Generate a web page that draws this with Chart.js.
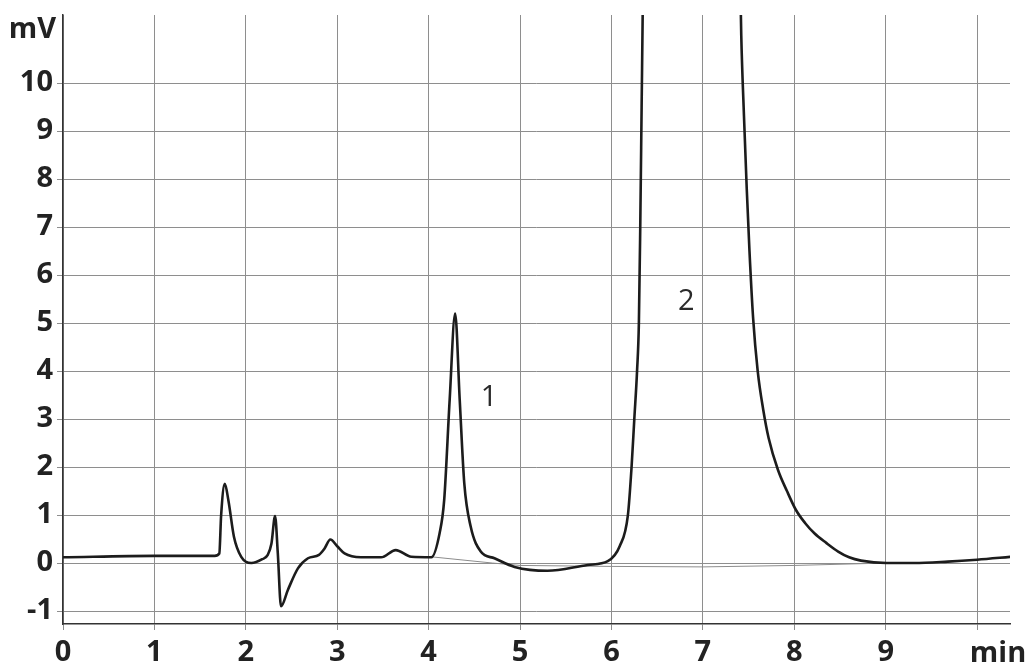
<!DOCTYPE html>
<html>
<head>
<meta charset="utf-8">
<script src="https://cdn.jsdelivr.net/npm/chart.js@4/dist/chart.umd.min.js"></script>
<style>
  html, body { margin: 0; padding: 0; background: #fff; }
  #wrap { width: 1029px; height: 664px; position: relative; }
</style>
</head>
<body>
<div id="wrap"><canvas id="grafico"></canvas></div>
<script>
// chromatogram trace (min, mV)
const timeMin = [0, 1.0, 1.66, 1.71, 1.73, 1.77, 1.81, 1.87, 1.95, 2.06, 2.18, 2.24, 2.28, 2.32, 2.35, 2.385,
  2.46, 2.57, 2.68, 2.80, 2.86, 2.925, 3.0, 3.08, 3.26, 3.48, 3.64, 3.81, 4.03, 4.12, 4.17, 4.23, 4.29,
  4.34, 4.39, 4.46, 4.57, 4.72, 4.94, 5.30, 5.74, 5.96, 6.09, 6.18, 6.22, 6.25, 6.28, 6.30, 6.315, 6.33,
  6.345, 6.36, 6.9, 7.40, 7.42, 7.45, 7.48, 7.51, 7.55, 7.60, 7.66, 7.72, 7.82, 7.92, 8.02, 8.12, 8.22,
  8.35, 8.48, 8.60, 8.73, 9.01, 9.31, 9.68, 10.0, 10.37];
const signalMv = [0.12, 0.15, 0.15, 0.2, 1.0, 1.65, 1.3, 0.55, 0.13, 0.0, 0.08, 0.17, 0.4, 0.98, 0.2, -0.9,
  -0.56, -0.11, 0.1, 0.17, 0.3, 0.49, 0.35, 0.2, 0.12, 0.12, 0.27, 0.13, 0.12, 0.62, 1.31, 3.4, 5.2,
  3.4, 1.66, 0.76, 0.24, 0.1, -0.08, -0.16, -0.04, 0.04, 0.35, 1.0, 2.0, 3.0, 4.0, 5.0, 7.0, 9.5,
  12, 15, 40, 13, 11, 9.3, 7.8, 6.5, 5.1, 4.0, 3.2, 2.6, 1.95, 1.5, 1.1, 0.83, 0.62,
  0.42, 0.24, 0.12, 0.05, 0.0, 0.0, 0.03, 0.07, 0.13];

// thin integration baseline under peaks 1 and 2
const baseTime = [4.03, 4.7, 5.0, 6.0, 7.0, 8.0, 9.0];
const baseMv = [0.13, 0.0, -0.05, -0.07, -0.08, -0.05, 0.0];

// peak numbers
const peakNames = ['1', '2'];
const peakTime = [4.66, 6.82];
const peakMv = [3.44, 5.44];

const xTicks = [0, 1, 2, 3, 4, 5, 6, 7, 8, 9, 10];
const yTicks = [-1, 0, 1, 2, 3, 4, 5, 6, 7, 8, 9, 10];

const tickFont = { family: 'Open Sans', size: 29, weight: 'bold' };

const extraText = {
    id: 'extraText',
    afterDatasetsDraw(chart) {
        const ctx = chart.ctx;
        const xs = chart.scales.x, ys = chart.scales.y;
        ctx.save();
        ctx.fillStyle = '#2a2a2a';
        ctx.font = 'normal 29px "Open Sans"';
        ctx.textAlign = 'center';
        ctx.textBaseline = 'middle';
        peakNames.forEach((n, i) => {
            ctx.fillText(n, xs.getPixelForValue(peakTime[i]), ys.getPixelForValue(peakMv[i]));
        });
        ctx.font = 'bold 29px "Open Sans"';
        ctx.fillStyle = '#222';
        ctx.textAlign = 'right';
        ctx.fillText('mV', chart.chartArea.left - 7, chart.chartArea.top + 15);
        ctx.textAlign = 'center';
        ctx.textBaseline = 'alphabetic';
        ctx.fillText('min', chart.chartArea.right - 12, chart.chartArea.bottom + 38);
        ctx.restore();
    }
};

const ctx = document.getElementById('grafico').getContext('2d');
new Chart(ctx, {
    type: 'line',
    data: {
        datasets: [{
            data: timeMin.map((t, i) => ({ x: t, y: signalMv[i] })),
            borderColor: '#1c1c1c',
            borderWidth: 2.6,
            pointRadius: 0,
            cubicInterpolationMode: 'monotone',
            fill: false
        }, {
            data: baseTime.map((t, i) => ({ x: t, y: baseMv[i] })),
            borderColor: '#8c8c8c',
            borderWidth: 1,
            pointRadius: 0,
            tension: 0,
            fill: false
        }]
    },
    options: {
        responsive: true,
        maintainAspectRatio: false,
        animation: false,
        layout: { padding: { top: 15, right: 19 } },
        plugins: {
            legend: { display: false },
            tooltip: { enabled: false }
        },
        scales: {
            x: {
                type: 'linear',
                min: 0,
                max: 10.36,
                afterBuildTicks: s => { s.ticks = xTicks.map(v => ({ value: v })); },
                afterFit: s => { s.height = 40; s.paddingLeft = 0; s.paddingRight = 0; },
                ticks: {
                    font: tickFont,
                    color: '#222',
                    padding: 5,
                    maxRotation: 0,
                    callback: v => (v === 10 ? '' : String(v))
                },
                grid: { color: '#8e8e8e', lineWidth: 1, tickLength: 6 },
                border: { color: '#333', width: 1.5 }
            },
            y: {
                min: -1.27,
                max: 11.42,
                afterBuildTicks: s => { s.ticks = yTicks.map(v => ({ value: v })); },
                afterFit: s => { s.width = 63; s.paddingTop = 0; s.paddingBottom = 0; },
                ticks: {
                    font: tickFont,
                    color: '#222',
                    padding: 4
                },
                grid: { color: '#8e8e8e', lineWidth: 1, tickLength: 6 },
                border: { color: '#333', width: 1.5 }
            }
        }
    },
    plugins: [extraText]
});
</script>
</body>
</html>
